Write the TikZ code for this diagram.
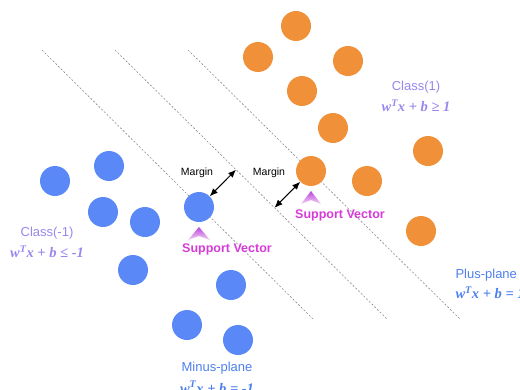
\documentclass[tikz,border=0pt]{standalone}
\usepackage{fontspec}
\setmainfont{Liberation Sans}
\newfontfamily\eqfont{Liberation Serif}
\usetikzlibrary{arrows.meta, positioning, calc}

\definecolor{dotorange}{HTML}{F0913A}
\definecolor{dotblue}{HTML}{5B88F7}
\definecolor{classtxt}{HTML}{9A86EE}
\definecolor{planetxt}{HTML}{4D80EE}
\definecolor{svtxt}{HTML}{D63BD8}
\definecolor{svtop}{HTML}{B845DD}
\definecolor{svbot}{HTML}{F6D2F6}

\begin{document}
\begin{tikzpicture}[
  x=1pt, y=-1pt,
  posdot/.style = {circle, fill=dotorange, minimum size=30pt, inner sep=0pt},
  negdot/.style = {circle, fill=dotblue, minimum size=30pt, inner sep=0pt},
  plane/.style  = {draw=gray!90, line width=0.6pt, dash pattern=on 2pt off 1.8pt},
  arrow/.style  = {line width=1pt, {Latex[length=2.8mm,width=2.3mm]}-{Latex[length=2.8mm,width=2.3mm]}},
  margin/.style = {font=\fontsize{10.5}{12}\selectfont},
  svlabel/.style = {text=svtxt, font=\bfseries\fontsize{12.5}{14}\selectfont},
  classlabel/.style = {text=classtxt, font=\fontsize{13}{15}\selectfont},
  planelabel/.style = {text=planetxt, font=\fontsize{13}{15}\selectfont},
  eq/.style     = {font=\eqfont\bfseries\itshape\fontsize{14.5}{16}\selectfont}
]

  \useasboundingbox (0,0) rectangle (520,389);
  \clip (0,0) rectangle (520,389);

  % Minus-plane, hyperplane and plus-plane
  \coordinate (m1) at (42,50);
  \coordinate (m2) at (313,319);
  \coordinate (h1) at (115,50);
  \coordinate (h2) at (387,319);
  \coordinate (p1) at (188,50);
  \coordinate (p2) at (460,319);
  \draw[plane] (m1) -- (m2);
  \draw[plane] (h1) -- (h2);
  \draw[plane] (p1) -- (p2);

  % Class(1) points
  \node[posdot] (o1) at (296,26) {};
  \node[posdot] (o2) at (258,57) {};
  \node[posdot] (o3) at (348,61) {};
  \node[posdot] (o4) at (302,91) {};
  \node[posdot] (o5) at (333,128) {};
  \node[posdot] (o6) at (428,151) {};
  \node[posdot] (osv) at (311,171) {};
  \node[posdot] (o7) at (367,181) {};
  \node[posdot] (o8) at (421,231) {};

  % Class(-1) points
  \node[negdot] (b1) at (109,166) {};
  \node[negdot] (b2) at (55,181) {};
  \node[negdot] (b3) at (103,212) {};
  \node[negdot] (b4) at (145,222) {};
  \node[negdot] (bsv) at (199,207) {};
  \node[negdot] (b5) at (133,270) {};
  \node[negdot] (b6) at (231,285) {};
  \node[negdot] (b7) at (187,325) {};
  \node[negdot] (b8) at (238,340) {};

  % Margin arrows
  \draw[arrow] (bsv.north east) -- ($(h1)!(bsv.north east)!(h2)$);
  \draw[arrow] ($(h1)!(osv.south west)!(h2)$) -- (osv.south west);
  \node[margin] (mg1) at (197,173) {Margin};
  \node[margin] (mg2) at (269,173) {Margin};

  % Support vector markers
  \coordinate[below=20pt of bsv.center] (bsvtip);
  \coordinate[below=20pt of osv.center] (osvtip);
  \shade[top color=svtop, bottom color=svbot]
    (bsvtip) -- ++(-11,13) -- ++(11,-4) -- ++(11,4) -- cycle;
  \shade[top color=svtop, bottom color=svbot]
    (osvtip) -- ++(-10,13) -- ++(10,-4) -- ++(10,4) -- cycle;
  \node[svlabel] (sv1) at (227,249) {Support Vector};
  \node[svlabel] (sv2) at (340,215) {Support Vector};

  % Class labels
  \node[classlabel] (c1) at (416,87) {Class(1)};
  \node[eq, text=classtxt, below=0pt of c1] {w\textsuperscript{T}x + b ≥ 1};
  \node[classlabel] (c0) at (47,233) {Class(-1)};
  \node[eq, text=classtxt, below=0pt of c0] {w\textsuperscript{T}x + b ≤ -1};

  % Plane labels
  \node[planelabel, anchor=west] (pp) at (452,275) {Plus-plane};
  \node[eq, text=planetxt, anchor=west] at (452,293) {w\textsuperscript{T}x + b = 1};
  \node[planelabel] (mp) at (217,368) {Minus-plane};
  \node[eq, text=planetxt, below=0pt of mp] {w\textsuperscript{T}x + b = -1};

\end{tikzpicture}
\end{document}
